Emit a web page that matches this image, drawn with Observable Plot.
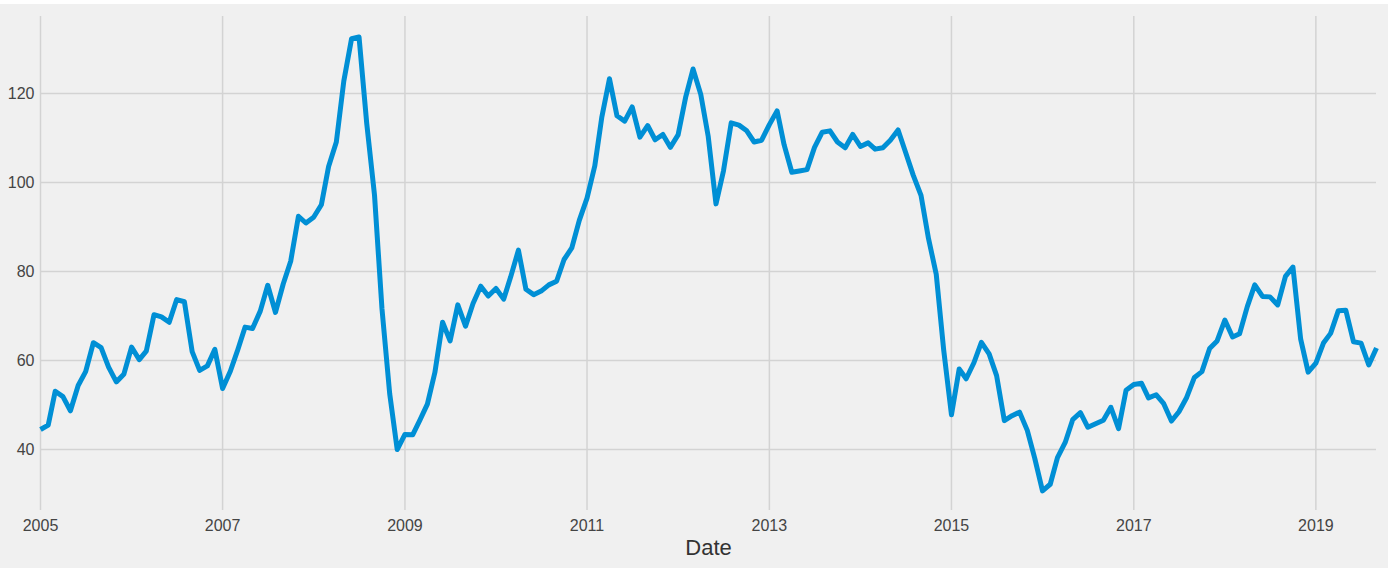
<!DOCTYPE html>
<html>
<head>
<meta charset="utf-8">
<script src="https://cdn.jsdelivr.net/npm/d3@7"></script>
<script src="https://cdn.jsdelivr.net/npm/@observablehq/plot@0.6"></script>
<style>
  html, body { margin: 0; padding: 0; background: #ffffff; }
  #wrap { position: absolute; left: 0; top: 4px; width: 1388px; height: 564px; background: #f0f0f0; }
  svg { display: block; }
</style>
</head>
<body>
<div id="wrap"></div>
<script>
// Monthly values, Jan 2005 – Sep 2019
const startYear = 2005;
const values = [
  // 2005
  44.5, 45.5, 53.1, 51.9, 48.7, 54.4, 57.5, 64.0, 62.9, 58.5, 55.2, 56.9,
  // 2006
  63.0, 60.2, 62.1, 70.3, 69.8, 68.6, 73.7, 73.2, 62.0, 57.8, 58.8, 62.5,
  // 2007
  53.7, 57.6, 62.1, 67.5, 67.2, 71.1, 76.9, 70.8, 77.2, 82.3, 92.4, 90.9,
  // 2008
  92.2, 95.0, 103.6, 109.1, 122.8, 132.3, 132.7, 113.2, 97.2, 71.6, 52.5, 40.0,
  // 2009
  43.4, 43.3, 46.5, 50.2, 57.3, 68.6, 64.4, 72.5, 67.7, 72.8, 76.7, 74.5,
  // 2010
  76.2, 73.8, 78.8, 84.8, 76.0, 74.8, 75.6, 77.0, 77.8, 82.7, 85.3, 91.5,
  // 2011
  96.5, 103.7, 114.6, 123.3, 115.0, 113.8, 117.0, 110.2, 112.8, 109.6, 110.8, 107.9,
  // 2012
  110.7, 119.3, 125.5, 119.8, 110.3, 95.2, 102.6, 113.4, 112.9, 111.7, 109.1, 109.5,
  // 2013
  113.0, 116.1, 108.5, 102.3, 102.6, 102.9, 107.9, 111.3, 111.6, 109.1, 107.8, 110.8,
  // 2014
  108.1, 108.9, 107.5, 107.8, 109.5, 111.8, 106.8, 101.6, 97.1, 87.4, 79.4, 62.3,
  // 2015
  47.8, 58.1, 55.9, 59.5, 64.1, 61.5, 56.6, 46.5, 47.6, 48.4, 44.3, 38.0,
  // 2016
  30.7, 32.2, 38.2, 41.6, 46.7, 48.3, 45.0, 45.8, 46.6, 49.5, 44.7, 53.3,
  // 2017
  54.6, 54.9, 51.6, 52.3, 50.3, 46.4, 48.5, 51.7, 56.2, 57.5, 62.7, 64.4,
  // 2018
  69.1, 65.3, 66.0, 72.1, 77.0, 74.4, 74.3, 72.5, 78.9, 81.0, 64.8, 57.4,
  // 2019
  59.4, 64.0, 66.1, 71.2, 71.3, 64.2, 63.9, 59.0, 62.8
];
const xTickYears = [2005, 2007, 2009, 2011, 2013, 2015, 2017, 2019];
const yTicks = [40, 60, 80, 100, 120];
const xLabel = "Date";

const data = values.map((v, i) => ({
  date: new Date(Date.UTC(startYear + Math.floor(i / 12), i % 12, 1)),
  value: v
}));
const xTicks = xTickYears.map(y => new Date(Date.UTC(y, 0, 1)));

const chart = Plot.plot({
  width: 1388,
  height: 564,
  marginLeft: 40,
  marginRight: 12,
  marginTop: 12,
  marginBottom: 58,
  style: {
    background: "#f0f0f0",
    fontFamily: "'Liberation Sans', Arial, sans-serif",
    fontSize: "16px",
    color: "#444444"
  },
  x: {
    type: "utc",
    domain: [data[0].date, data[data.length - 1].date],
    label: null
  },
  y: {
    domain: [26.3, 137.3],
    label: null
  },
  marks: [
    Plot.gridX(xTicks, {stroke: "#d3d3d3", strokeOpacity: 1, strokeWidth: 1.5}),
    Plot.gridY(yTicks, {stroke: "#d3d3d3", strokeOpacity: 1, strokeWidth: 1.5}),
    Plot.axisX(xTicks, {tickSize: 0, tickPadding: 9, tickFormat: d3.utcFormat("%Y"), label: null, fill: "#444444"}),
    Plot.axisY(yTicks, {tickSize: 0, tickPadding: 6, label: null, fill: "#444444"}),
    Plot.lineY(data, {x: "date", y: "value", stroke: "#008fd5", strokeWidth: 5, strokeLinejoin: "round", strokeLinecap: "butt"}),
    Plot.text([xLabel], {frameAnchor: "bottom", dy: 37, lineAnchor: "middle", fontSize: 22, fill: "#333333", text: d => d})
  ]
});
document.getElementById("wrap").appendChild(chart);
</script>
</body>
</html>
